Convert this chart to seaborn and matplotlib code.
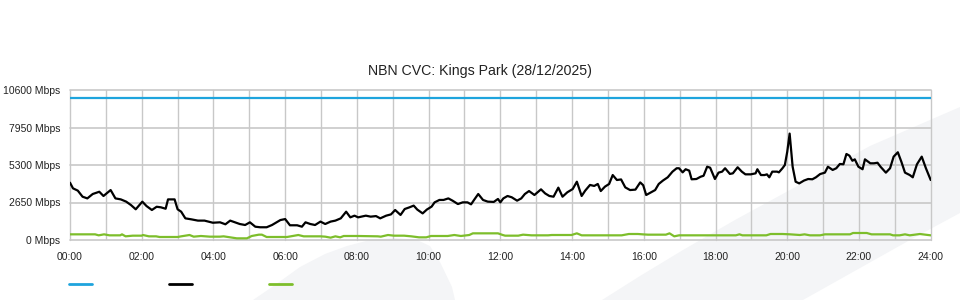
import matplotlib
matplotlib.use("Agg")
import matplotlib.pyplot as plt
from matplotlib.patches import Polygon
from matplotlib.lines import Line2D
from matplotlib.ticker import MultipleLocator
import pandas as pd
import seaborn as sns

# ---------------- data ----------------
title = "NBN CVC: Kings Park (28/12/2025)"
y_ticks = [0, 2650, 5300, 7950, 10600]
y_tick_labels = ["0 Mbps", "2650 Mbps", "5300 Mbps", "7950 Mbps", "10600 Mbps"]
x_tick_minutes = [0, 120, 240, 360, 480, 600, 720, 840, 960, 1080, 1200, 1320, 1440]
x_tick_labels = ["00:00", "02:00", "04:00", "06:00", "08:00", "10:00", "12:00",
                 "14:00", "16:00", "18:00", "20:00", "22:00", "24:00"]

capacity_minutes = [0, 1440]
capacity_mbps = [10000, 10000]

download_minutes = [
    0, 5, 13, 21, 29, 38, 49, 56, 68, 76, 85, 94, 102, 110, 121, 128, 137, 145, 152, 160,
    164, 175, 180, 186, 193, 203, 214, 225, 239, 251, 260, 268, 276, 284, 293, 301, 310, 318,
    329, 338, 352, 360, 368, 380, 388, 394, 402, 410, 419, 427, 436, 444, 453, 462, 469, 476,
    482, 495, 503, 512, 519, 529, 537, 544, 553, 560, 568, 575, 581, 590, 597, 605, 610, 618,
    625, 633, 640, 649, 657, 665, 671, 676, 683, 691, 699, 709, 716, 720, 725, 732, 739, 748,
    755, 761, 768, 777, 788, 795, 802, 809, 817, 824, 832, 841, 848, 856, 862, 870, 877, 883,
    888, 895, 902, 908, 915, 922, 929, 937, 946, 954, 959, 964, 972, 979, 985, 992, 1000, 1008,
    1015, 1019, 1025, 1030, 1036, 1040, 1048, 1055, 1060, 1066, 1071, 1079, 1085, 1091, 1096,
    1104, 1109, 1117, 1124, 1130, 1139, 1147, 1150, 1156, 1162, 1166, 1170, 1175, 1183, 1186,
    1192, 1196, 1200, 1204, 1209, 1214, 1220, 1228, 1235, 1242, 1248, 1255, 1263, 1268, 1276,
    1282, 1288, 1294, 1299, 1304, 1309, 1313, 1319, 1326, 1330, 1339, 1345, 1351, 1356, 1365,
    1372, 1378, 1385, 1391, 1397, 1405, 1410, 1417, 1425, 1432, 1440]
download_mbps = [
    4050, 3650, 3490, 3060, 2940, 3250, 3410, 3110, 3530, 2940, 2870, 2710, 2470, 2170, 2710,
    2400, 2120, 2350, 2310, 2210, 2870, 2870, 2170, 2000, 1530, 1460, 1370, 1370, 1220, 1250,
    1110, 1370, 1250, 1130, 1060, 1250, 940, 900, 900, 1060, 1410, 1480, 1040, 1040, 940, 1250,
    1130, 1060, 1300, 1130, 1300, 1370, 1530, 2000, 1600, 1720, 1600, 1720, 1650, 1690, 1530,
    1720, 1810, 2120, 1770, 2190, 2310, 2430, 2150, 1880, 2150, 2360, 2660, 2830, 2830, 2940,
    2780, 2540, 2660, 2660, 2520, 2830, 3250, 2830, 2710, 2690, 2900, 2660, 2940, 3110, 3020,
    2780, 2940, 3250, 3460, 3180, 3580, 3290, 3110, 3060, 3700, 3060, 3370, 3600, 4120, 3110,
    3490, 3890, 3820, 3960, 3460, 3770, 3960, 4590, 4240, 4280, 3720, 3530, 3560, 4070, 3870,
    3180, 3370, 3530, 3960, 4200, 4430, 4830, 5070, 5070, 4780, 5000, 4900, 4290, 4310, 4470,
    4540, 5180, 5110, 4310, 4760, 4830, 5070, 4670, 4710, 5140, 4830, 4640, 4640, 4710, 5000,
    4590, 4590, 4640, 4430, 4830, 4830, 4780, 5070, 5300, 6240, 7520, 5180, 4120, 4000, 4200,
    4310, 4290, 4430, 4660, 4760, 5180, 4950, 5070, 5370, 5350, 6080, 5960, 5600, 5700, 5180,
    5000, 5700, 5420, 5420, 5460, 5180, 4760, 5070, 5890, 6200, 5520, 4760, 4590, 4430, 5350,
    5890, 5070, 4240]

upload_minutes = [
    0, 30, 42, 48, 57, 66, 84, 87, 93, 105, 120, 122, 132, 144, 150, 180, 186, 200, 207, 219,
    234, 251, 257, 279, 296, 304, 316, 321, 329, 363, 382, 391, 419, 427, 436, 444, 452, 458,
    482, 515, 520, 532, 542, 559, 571, 584, 596, 604, 632, 643, 654, 668, 674, 716, 724, 728,
    750, 758, 772, 800, 806, 839, 848, 856, 923, 935, 950, 958, 967, 997, 1003, 1011, 1019,
    1114, 1120, 1125, 1165, 1172, 1192, 1205, 1221, 1229, 1238, 1255, 1263, 1305, 1310, 1333,
    1341, 1372, 1377, 1388, 1397, 1405, 1422, 1440]
upload_mbps = [
    400, 400, 400, 330, 400, 330, 330, 400, 260, 306, 306, 353, 259, 259, 212, 212, 259, 353,
    236, 283, 236, 236, 259, 118, 118, 283, 377, 377, 212, 212, 353, 259, 259, 236, 165, 259,
    188, 283, 283, 259, 236, 353, 306, 306, 259, 188, 188, 283, 283, 353, 283, 353, 471, 471,
    353, 306, 306, 377, 330, 330, 353, 353, 471, 330, 330, 424, 424, 400, 377, 377, 471, 259,
    330, 330, 400, 330, 330, 424, 424, 400, 353, 400, 330, 330, 400, 400, 495, 495, 400, 400,
    330, 330, 400, 330, 424, 330]

# ---------------- styling ----------------
sns.set_style("white")
plt.rcParams["font.family"] = ["Liberation Sans", "DejaVu Sans"]

W, H = 960, 300
fig = plt.figure(figsize=(W / 100, H / 100), dpi=100)
fig.patch.set_facecolor("white")

def fxy(pts):
    return [(x / W, 1 - y / H) for x, y in pts]

wm_color = "#f4f5f7"
band = [(602, 300), (640, 276), (683, 250), (735, 220), (790, 190), (870, 146), (960, 107),
        (960, 213), (910, 240), (803, 300)]
blob = [(253, 300), (275, 285), (300, 267), (325, 254), (347, 246), (370, 240), (395, 238),
        (417, 240), (430, 246), (440, 262), (452, 287), (455, 300)]
for shape in (band, blob):
    fig.add_artist(Polygon(fxy(shape), closed=True, transform=fig.transFigure,
                           facecolor=wm_color, edgecolor="none", zorder=-5))

ax = fig.add_axes([70 / W, 60 / H, 860.7 / W, 150 / H])
ax.set_facecolor("none")

c_cap, c_down, c_up = "#1ea4dd", "#000000", "#7dbe2b"

cap_df = pd.DataFrame({"minute": capacity_minutes, "mbps": capacity_mbps})
down_df = pd.DataFrame({"minute": download_minutes, "mbps": download_mbps})
up_df = pd.DataFrame({"minute": upload_minutes, "mbps": upload_mbps})

sns.lineplot(data=cap_df, x="minute", y="mbps", ax=ax, color=c_cap, lw=1.6, zorder=3)
sns.lineplot(data=up_df, x="minute", y="mbps", ax=ax, color=c_up, lw=1.6, zorder=3)
sns.lineplot(data=down_df, x="minute", y="mbps", ax=ax, color=c_down, lw=1.6, zorder=4)

ax.set_xlim(0, 1440)
ax.set_ylim(0, 10600)
ax.set_xlabel("")
ax.set_ylabel("")

ax.set_xticks(x_tick_minutes)
ax.set_xticklabels(x_tick_labels)
ax.xaxis.set_minor_locator(MultipleLocator(60))
ax.set_yticks(y_ticks)
ax.set_yticklabels(y_tick_labels)

grid_c = "#c8c8c8"
ax.set_axisbelow(True)
ax.grid(True, axis="x", which="both", color=grid_c, lw=1.0)
ax.grid(True, axis="y", which="major", color=grid_c, lw=1.2)
for ln in ax.get_xgridlines() + ax.get_ygridlines():
    ln.set_clip_on(False)
for ln in ax.xaxis.get_minorticklines():
    pass

ax.tick_params(axis="x", which="major", length=7.2, width=1.0, color="#c0c0c0",
               pad=1.5, labelsize=7.5, labelcolor="#222222")
ax.tick_params(axis="x", which="minor", length=0)
ax.tick_params(axis="y", which="major", length=0, pad=7, labelsize=7.5, labelcolor="#222222")
for s in ax.spines.values():
    s.set_visible(False)

fig.text(0.5, 1 - 71 / H, title, ha="center", va="center", fontsize=10.2, color="#222222")

handles = [Line2D([], [], color=c, lw=2) for c in (c_cap, c_down, c_up)]
fs = 10
px_per_em = fs * 100 / 72
fig.legend(handles, ["", "", ""], ncol=3, loc="center left",
           bbox_to_anchor=(69 / W, 1 - 285 / H), frameon=False,
           handlelength=23 / px_per_em, handletextpad=0, columnspacing=77 / px_per_em,
           borderpad=0, borderaxespad=0, fontsize=fs)

fig.savefig("out.png", dpi=100, facecolor="white")
